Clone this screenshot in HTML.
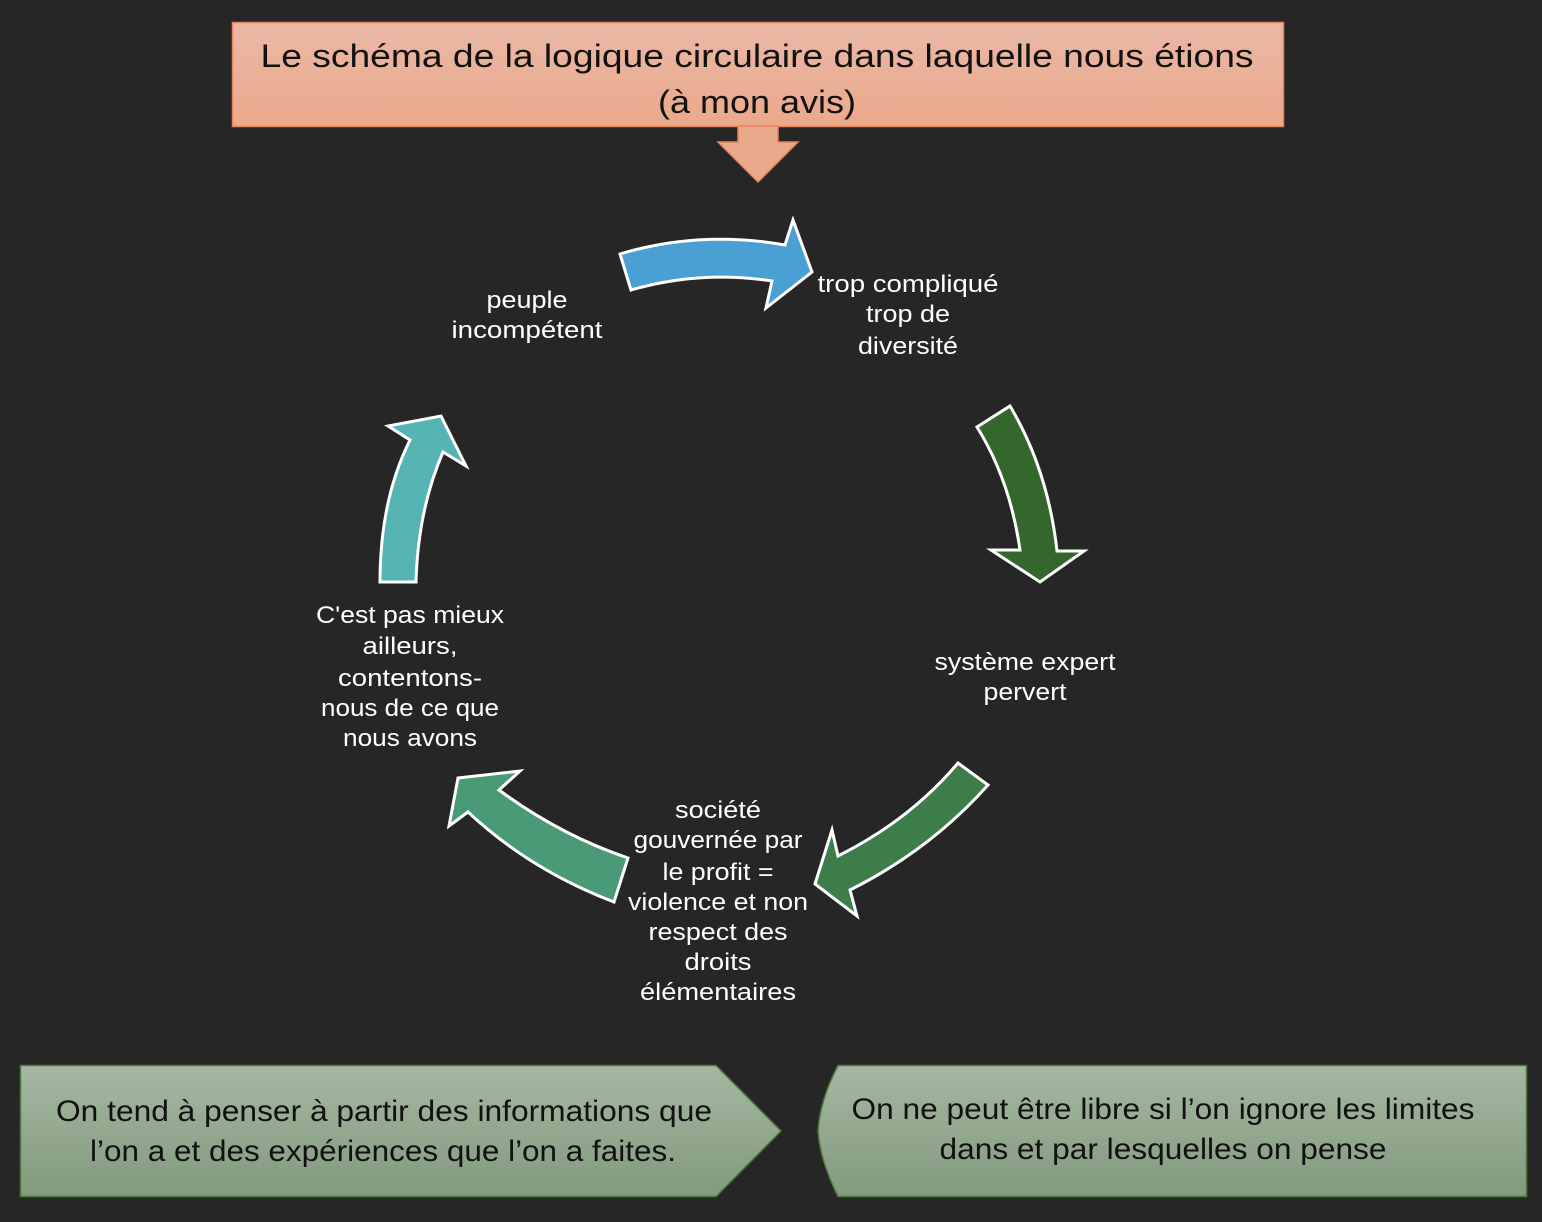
<!DOCTYPE html>
<html><head><meta charset="utf-8"><style>
html,body{margin:0;padding:0;background:#262626;}
svg{display:block}
text{font-family:"Liberation Sans",sans-serif;}
</style></head><body>
<svg width="1542" height="1222" viewBox="0 0 1542 1222" xmlns="http://www.w3.org/2000/svg">
<defs>
<linearGradient id="t" x1="0" y1="0" x2="0" y2="1"><stop offset="0" stop-color="#e9b8a6"/><stop offset="1" stop-color="#eba98c"/></linearGradient>
<linearGradient id="g" x1="0" y1="0" x2="0" y2="1"><stop offset="0" stop-color="#a6b7a2"/><stop offset="1" stop-color="#829a7e"/></linearGradient>
</defs>
<rect width="1542" height="1222" fill="#262626"/>
<rect x="232.5" y="22.5" width="1051" height="104" fill="url(#t)" stroke="#e8845c" stroke-width="1.5"/>
<text x="757" y="67" font-size="32" text-anchor="middle" fill="#111" textLength="993" lengthAdjust="spacingAndGlyphs">Le schéma de la logique circulaire dans laquelle nous étions</text>
<text x="757" y="113" font-size="32" text-anchor="middle" fill="#111" textLength="198" lengthAdjust="spacingAndGlyphs">(à mon avis)</text>
<path d="M738,126 L738,142 L718,142 L758,182 L798,142 L778,142 L778,126 Z" fill="#eba98c" stroke="#e8845c" stroke-width="1.5"/>

<g stroke="#fff" stroke-width="3" stroke-linejoin="miter">
<path d="M620,254 Q700,230 785,245 L793,220 L812,272 L766,308 L772,281 Q700,270 631,290 Z" fill="#4a9fd3"/>
<path d="M977,427 Q1010,480 1020,550 L991,550 L1040,582 L1084,551 L1057,551 Q1048,470 1010,406 Z" fill="#33672c"/>
<path d="M958,763 Q910,820 838,856 L832,830 L815,884 L857,916 L850,890 Q930,850 988,785 Z" fill="#3d7d4a"/>
<path d="M628,858 Q560,835 499,790 L520,771 L458,778 L449,826 L468,812 Q530,870 614,902 Z" fill="#4a9a78"/>
<path d="M380,582 Q380,500 410,440 L388,426 L441,416 L466,466 L443,452 Q418,510 416,582 Z" fill="#56b4b4"/>
</g>

<g fill="#fff" font-size="24" text-anchor="middle" lengthAdjust="spacingAndGlyphs">
<text x="527" y="308" textLength="81" lengthAdjust="spacingAndGlyphs">peuple</text>
<text x="527" y="338" textLength="151" lengthAdjust="spacingAndGlyphs">incompétent</text>
<text x="908" y="292" textLength="181" lengthAdjust="spacingAndGlyphs">trop compliqué</text>
<text x="908" y="322" textLength="84" lengthAdjust="spacingAndGlyphs">trop de</text>
<text x="908" y="354" textLength="100" lengthAdjust="spacingAndGlyphs">diversité</text>
<text x="1025" y="670" textLength="181" lengthAdjust="spacingAndGlyphs">système expert</text>
<text x="1025" y="700" textLength="83" lengthAdjust="spacingAndGlyphs">pervert</text>
<text x="718" y="818" textLength="86" lengthAdjust="spacingAndGlyphs">société</text>
<text x="718" y="848" textLength="169" lengthAdjust="spacingAndGlyphs">gouvernée par</text>
<text x="718" y="880" textLength="111" lengthAdjust="spacingAndGlyphs">le profit =</text>
<text x="718" y="910" textLength="180" lengthAdjust="spacingAndGlyphs">violence et non</text>
<text x="718" y="940" textLength="139" lengthAdjust="spacingAndGlyphs">respect des</text>
<text x="718" y="970" textLength="67" lengthAdjust="spacingAndGlyphs">droits</text>
<text x="718" y="1000" textLength="156" lengthAdjust="spacingAndGlyphs">élémentaires</text>
<text x="410" y="623" textLength="188" lengthAdjust="spacingAndGlyphs">C'est pas mieux</text>
<text x="410" y="654" textLength="95" lengthAdjust="spacingAndGlyphs">ailleurs,</text>
<text x="410" y="686" textLength="144" lengthAdjust="spacingAndGlyphs">contentons-</text>
<text x="410" y="716" textLength="178" lengthAdjust="spacingAndGlyphs">nous de ce que</text>
<text x="410" y="746" textLength="134" lengthAdjust="spacingAndGlyphs">nous avons</text>
</g>

<path d="M20.5,1065.5 L716,1065.5 L781,1131 L716,1196.5 L20.5,1196.5 Z" fill="url(#g)" stroke="#4d7a3e" stroke-width="1.5"/>
<path d="M838,1065.5 L1526.5,1065.5 L1526.5,1196.5 L838,1196.5 Q820,1160 818,1131 Q820,1100 838,1065.5 Z" fill="url(#g)" stroke="#4d7a3e" stroke-width="1.5"/>
<g fill="#111" font-size="30" text-anchor="middle">
<text x="384" y="1121" textLength="656" lengthAdjust="spacingAndGlyphs">On tend à penser à partir des informations que</text>
<text x="383" y="1161" textLength="586" lengthAdjust="spacingAndGlyphs">l’on a et des expériences que l’on a faites.</text>
<text x="1163" y="1119" textLength="623" lengthAdjust="spacingAndGlyphs">On ne peut être libre si l’on ignore les limites</text>
<text x="1163" y="1159" textLength="447" lengthAdjust="spacingAndGlyphs">dans et par lesquelles on pense</text>
</g>
</svg>
</body></html>
